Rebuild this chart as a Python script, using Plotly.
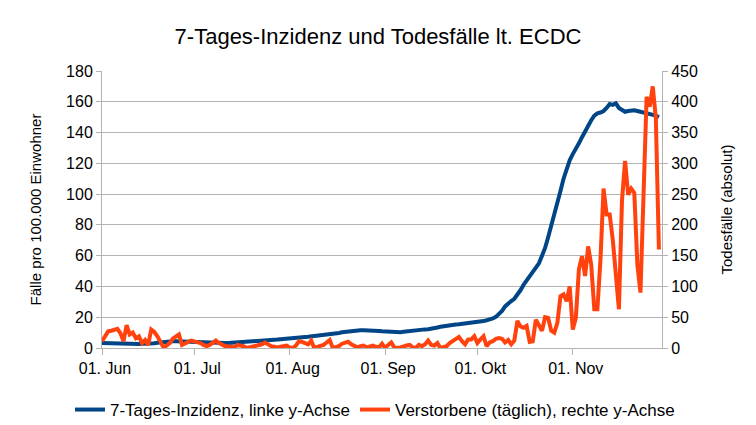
import pandas as pd
import plotly.graph_objects as go

start_date = "2020-06-01"

# 7-Tages-Inzidenz (Fälle pro 100.000 Einwohner), daily from 01. Jun
inc_jun = [3.2, 3.1, 3.0, 3.0, 3.0, 2.9, 2.8, 2.7, 2.7, 2.6, 2.6, 2.6, 2.6, 2.7, 2.7,
           2.8, 2.9, 3.1, 3.4, 3.7, 4.0, 4.2, 4.3, 4.4, 4.4, 4.3, 4.2, 4.1, 4.0, 3.8]
inc_jul = [3.7, 3.5, 3.4, 3.3, 3.2, 3.2, 3.1, 3.1, 3.1, 3.2, 3.2, 3.3, 3.4, 3.5, 3.6, 3.7,
           3.8, 3.9, 4.0, 4.1, 4.3, 4.5, 4.7, 4.8, 5.0, 5.2, 5.4, 5.5, 5.7, 5.8, 6.0]
inc_aug = [6.2, 6.4, 6.5, 6.7, 6.9, 7.1, 7.3, 7.5, 7.7, 7.9, 8.1, 8.4, 8.6, 8.9, 9.2, 9.5,
           9.8, 10.2, 10.5, 10.8, 11.1, 11.3, 11.5, 11.6, 11.6, 11.6, 11.6, 11.5, 11.4, 11.1, 10.9]
inc_sep = [10.7, 10.5, 10.4, 10.3, 10.2, 10.3, 10.5, 10.8, 11.1, 11.4, 11.6, 11.8, 12.0, 12.1, 12.2,
           12.4, 12.8, 13.3, 13.8, 14.2, 14.6, 14.8, 15.0, 15.2, 15.4, 15.6, 15.8, 16.0, 16.2, 16.4]
inc_oct = [16.6, 17.0, 17.5, 18.0, 18.5, 19.2, 20.2, 22.0, 24.0, 27.0, 29.0, 30.5, 32.0, 34.5, 37.5,
           41.0, 44.0, 46.5, 49.0, 52.0, 55.0, 60.0, 65.0, 72.0, 79.0, 86.0, 94.0, 102.0, 110.0, 117.0, 122.0]
inc_nov = [126, 129, 133, 137, 141, 144, 148, 151, 152.5, 153, 154, 156, 158.5, 158, 159, 156,
           154.5, 153.5, 154, 154.5, 154.5, 154, 153.5, 153, 152.5, 152.5, 151.5, 151, 150]

# Verstorbene (täglich), daily from 01. Jun
dea_jun = [11, 20, 27, 28, 30, 31, 24, 11, 37, 22, 25, 16, 19, 8, 13, 5, 30, 26, 19, 9,
           1, 4, 8, 15, 19, 22, 5, 8, 10, 12]
dea_jul = [11, 9, 8, 5, 3, 5, 8, 12, 8, 5, 3, 3, 2, 1, 5, 4, 3, 0, 1, 2, 3, 4, 6, 9, 5, 3,
           2, 1, 2, 3, 4]
dea_aug = [1, 0, 4, 11, 10, 8, 6, 12, 0, 2, 3, 5, 9, 13, 0, 2, 3, 7, 9, 10, 6, 3, 1, 3, 4,
           1, 2, 4, 2, 1, 7]
dea_sep = [0, 5, 9, 1, 0, 1, 3, 4, 5, 1, 0, 5, 3, 6, 12, 5, 4, 8, 0, 1, 3, 8, 11, 15, 18,
           11, 6, 14, 14, 19]
dea_oct = [8, 14, 19, 3, 9, 11, 15, 16, 15, 9, 13, 6, 12, 44, 35, 33, 36, 10, 11, 46, 38,
           28, 50, 49, 28, 25, 41, 84, 87, 76, 100]
dea_nov = [30, 49, 128, 149, 117, 165, 135, 63, 63, 143, 259, 217, 217, 176, 111, 63, 240,
           304, 249, 259, 252, 135, 90, 240, 408, 392, 425, 373, 160]

tick_dates = ["2020-06-01", "2020-07-01", "2020-08-01", "2020-09-01", "2020-10-01", "2020-11-01"]
tick_labels = ["01. Jun", "01. Jul", "01. Aug", "01. Sep", "01. Okt", "01. Nov"]

incidence = inc_jun + inc_jul + inc_aug + inc_sep + inc_oct + inc_nov
deaths = dea_jun + dea_jul + dea_aug + dea_sep + dea_oct + dea_nov
dates = pd.date_range(start_date, periods=len(incidence), freq="D")

grid = "#b3b3b3"
fig = go.Figure()
fig.add_trace(go.Scatter(x=dates, y=incidence, name="7-Tages-Inzidenz, linke y-Achse",
                         mode="lines", line=dict(color="#004586", width=4), yaxis="y"))
fig.add_trace(go.Scatter(x=dates, y=deaths, name="Verstorbene (täglich), rechte y-Achse",
                         mode="lines", line=dict(color="#ff420e", width=4), yaxis="y2"))

fig.update_layout(
    width=756, height=425, autosize=False,
    margin=dict(l=102, r=94, t=71, b=77, autoexpand=False),
    paper_bgcolor="white", plot_bgcolor="white",
    font=dict(family="Liberation Sans, Arial, sans-serif", size=16, color="black"),
    title=dict(text="7-Tages-Inzidenz und Todesfälle lt. ECDC", x=0.5, xanchor="center",
               y=1 - 36 / 425, yanchor="middle", font=dict(size=22)),
    xaxis=dict(type="date", range=["2020-06-01", "2020-11-30"], tickvals=tick_dates,
               ticktext=tick_labels, ticks="outside", ticklen=6, tickcolor=grid,
               ticklabelshift=3,
               showgrid=False, showline=True, linecolor=grid, zeroline=False, automargin=False),
    yaxis=dict(range=[0, 180], dtick=20, showgrid=True, gridcolor=grid, ticks="outside",
               ticklen=5, tickcolor=grid, showline=True, linecolor=grid, zeroline=False,
               automargin=False,
               title=dict(text="Fälle pro 100.000 Einwohner", font=dict(size=15), standoff=20)),
    yaxis2=dict(range=[0, 450], dtick=50, overlaying="y", side="right", showgrid=False,
                ticks="outside", ticklen=5, tickcolor=grid, showline=True, linecolor=grid,
                zeroline=False, automargin=False,
                title=dict(text="Todesfälle (absolut)", font=dict(size=15), standoff=24)),
    legend=dict(orientation="h", x=(70 - 102) / 560, xanchor="left",
                y=-62 / 277, yanchor="middle", font=dict(size=17),
                bgcolor="rgba(0,0,0,0)", itemwidth=30),
    showlegend=True,
)

fig.write_html("out.html", config={"displayModeBar": False},
               post_script="document.body.style.margin='0';document.body.style.overflow='hidden';")
